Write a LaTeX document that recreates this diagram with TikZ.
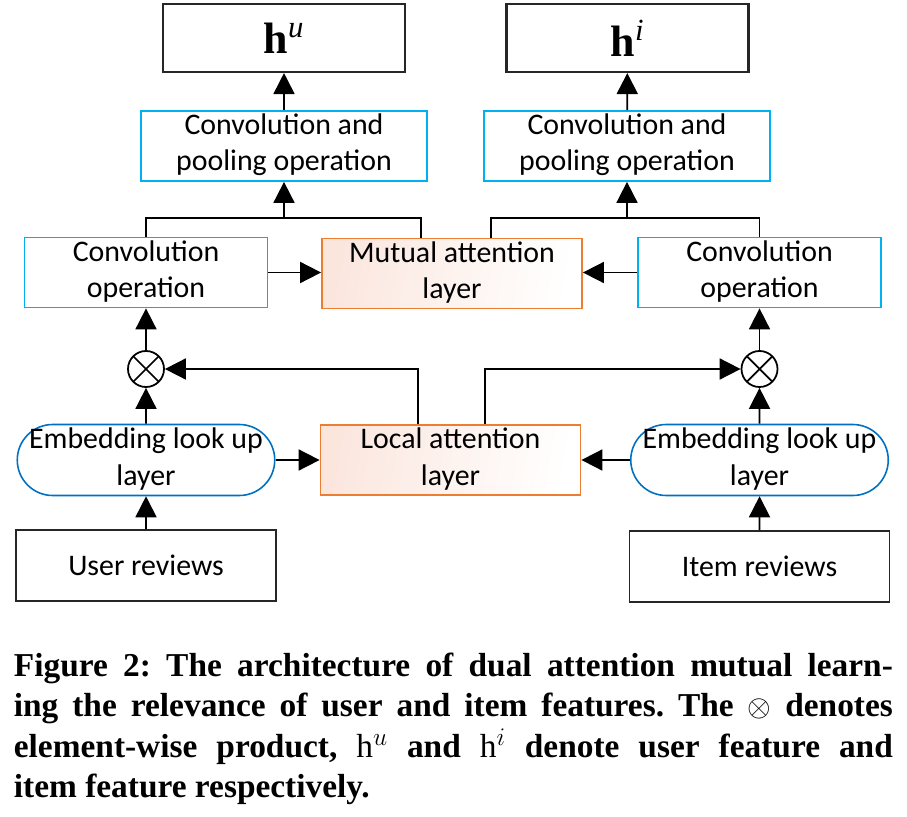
\documentclass[tikz,border=0pt]{standalone}
\usepackage{fontspec}
\setmainfont{Carlito}
\newfontfamily\capfont{Liberation Serif}
\usepackage{tikz}
\usetikzlibrary{positioning,shapes,arrows.meta}
\definecolor{convblue}{RGB}{0,176,240}
\definecolor{embblue}{RGB}{0,112,192}
\definecolor{attorange}{RGB}{237,125,49}
\definecolor{attfill}{RGB}{251,230,222}
\tikzstyle{outbox}=[rectangle, draw=black!85, line width=1.2pt, minimum width=4.84cm,
        minimum height=1.36cm, text centered, font=\fontsize{25}{30}\selectfont]
\tikzstyle{convbox}=[rectangle, draw=convblue, line width=1pt, minimum height=1.4cm,
        align=center, text height=1cm, text depth=-0.12cm, font=\fontsize{17}{20.5}\selectfont]
\tikzstyle{attbox}=[rectangle, draw=attorange, line width=1pt, left color=attfill, middle color=white,
        right color=white, shading angle=80, minimum width=5.2cm, minimum height=1.4cm, align=center,
        text height=1cm, text depth=-0.12cm, font=\fontsize{17}{20.5}\selectfont]
\tikzstyle{embbox}=[rounded rectangle, draw=embblue, line width=0.9pt, minimum width=5.22cm,
        minimum height=1.42cm, align=center, inner sep=1pt, text height=1cm, text depth=-0.12cm,
        font=\fontsize{17}{20.5}\selectfont]
\tikzstyle{inbox}=[rectangle, draw=black!85, line width=1pt, minimum width=5.2cm,
        minimum height=1.42cm, text centered, font=\fontsize{17}{20.5}\selectfont]
\tikzstyle{prod}=[circle, draw=black, line width=1pt, minimum size=0.72cm, inner sep=0pt,
        path picture={\draw[line width=1pt] (path picture bounding box.north west) -- (path picture bounding box.south east)
          (path picture bounding box.north east) -- (path picture bounding box.south west);}]
\tikzstyle{capline}=[anchor=base west, inner sep=0pt, font=\capfont\bfseries\fontsize{19}{23}\selectfont\frenchspacing]

\begin{document}
\begin{tikzpicture}[>={Triangle[length=0.42cm,width=0.42cm]}, line width=1pt]
        \useasboundingbox (0,0) rectangle (18.14,-16.32);
        % outputs
        \node (hu) [outbox] at (5.68,-0.76) {{\capfont\bfseries h}\textsuperscript{\capfont\itshape u}};
        \node (hi) [outbox] at (12.55,-0.76) {{\capfont\bfseries h}\textsuperscript{\capfont\itshape i}};
        \node (poolU) [convbox, minimum width=5.72cm] at (5.68,-2.92) {Convolution and\\pooling operation};
        \node (poolI) [convbox, minimum width=5.72cm] at (12.54,-2.92) {Convolution and\\pooling operation};
        % middle row
        \node (convU) [convbox, minimum width=4.86cm] at (2.92,-5.45) {Convolution\\operation};
        \node (mutual) [attbox] at (9.04,-5.47) {Mutual attention\\layer};
        \node (convI) [convbox, minimum width=4.86cm] at (15.19,-5.45) {Convolution\\operation};
        \node (otU) [prod] at (2.92,-7.38) {};
        \node (otI) [prod] at (15.19,-7.38) {};
        % inputs
        \node (embU) [embbox] at (2.92,-9.2) {Embedding look up\\layer};
        \node (local) [attbox] at (9.01,-9.2) {Local attention\\layer};
        \node (embI) [embbox] at (15.19,-9.2) {Embedding look up\\layer};
        \node (userR) [inbox] at (2.92,-11.31) {User reviews};
        \node (itemR) [inbox] at (15.19,-11.33) {Item reviews};

        \coordinate (jU) at (5.68,-4.36);
        \coordinate (jI) at (12.54,-4.36);

        \draw[->] (userR) -- (embU);
        \draw[->] (itemR) -- (embI);
        \draw[->] (embU) -- (otU);
        \draw[->] (embI) -- (otI);
        \draw[->] (otU) -- (convU);
        \draw[->] (otI) -- (convI);
        \draw[->] (embU.east) -- (embU.east -| local.west);
        \draw[->] (embI.west) -- (embI.west -| local.east);
        \draw[->] ([xshift=-0.65cm]local.north) |- (otU);
        \draw[->] ([xshift=0.69cm]local.north) |- (otI);
        \draw[->] (convU.east) -- (convU.east -| mutual.west);
        \draw[->] (convI.west) -- (convI.west -| mutual.east);
        \draw (convU.north) |- (jU) -| ([xshift=-0.62cm]mutual.north);
        \draw (convI.north) |- (jI) -| ([xshift=0.78cm]mutual.north);
        \draw[->] (jU) -- (poolU);
        \draw[->] (jI) -- (poolI);
        \draw[->] (poolU) -- (hu);
        \draw[->] (poolI) -- (hi);

        % caption
        \node (cap1) [capline] at (0.26,-13.52) {\makebox[17.58cm][s]{Figure 2: The architecture of dual attention mutual learn-}};
        \node (cap2) [capline] at (0.26,-14.32) {\makebox[17.58cm][s]{ing the relevance of user and item features. The $\otimes$ denotes}};
        \node (cap3) [capline] at (0.26,-15.14) {\makebox[17.58cm][s]{element-wise product, {\mdseries h}$^{u}$ and {\mdseries h}$^{i}$ denote user feature and}};
        \node (cap4) [capline] at (0.26,-15.94) {item feature respectively.};
\end{tikzpicture}
\end{document}
